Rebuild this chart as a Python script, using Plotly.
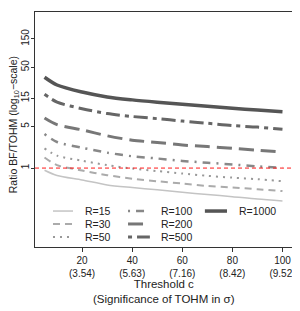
import plotly.graph_objects as go

# ---------------- data ----------------
threshold = [5, 10, 20, 30, 40, 50, 60, 70, 80, 90, 100]
x_tick_vals = [20, 40, 60, 80, 100]
x_tick_sigma = ["3.54", "5.63", "7.16", "8.42", "9.52"]
y_tick_vals = [1, 5, 15, 50, 150]

series_names = ["R=15", "R=30", "R=50", "R=100", "R=200", "R=500", "R=1000"]
ratio_R15 = [0.92, 0.75, 0.63, 0.52, 0.47, 0.43, 0.39, 0.36, 0.33, 0.30, 0.28]
ratio_R30 = [1.51, 1.12, 0.91, 0.76, 0.66, 0.60, 0.55, 0.50, 0.47, 0.44, 0.41]
ratio_R50 = [2.15, 1.62, 1.33, 1.12, 0.98, 0.89, 0.81, 0.74, 0.69, 0.65, 0.60]
ratio_R100 = [3.74, 2.75, 2.20, 1.82, 1.58, 1.45, 1.32, 1.23, 1.15, 1.07, 1.01]
ratio_R200 = [7.0, 5.4, 4.4, 3.5, 2.95, 2.7, 2.45, 2.3, 2.15, 2.0, 1.86]
ratio_R500 = [17.5, 12.9, 10.0, 8.3, 7.4, 6.8, 6.2, 5.7, 5.2, 4.9, 4.5]
ratio_R1000 = [33.9, 25.1, 19.1, 15.8, 14.1, 12.9, 11.9, 11.0, 10.2, 9.5, 8.9]
series_values = [ratio_R15, ratio_R30, ratio_R50, ratio_R100,
                 ratio_R200, ratio_R500, ratio_R1000]

x_title = "Threshold c<br>(Significance of TOHM in σ)"
y_title = "Ratio BF/TOHM (log<sub>10</sub>−scale)"

# ---------------- styles ----------------
styles = [
    dict(color="#c4c4c4", width=1.5, dash="solid"),
    dict(color="#ababab", width=2, dash="7px,5px"),
    dict(color="#999999", width=2, dash="2px,5px"),
    dict(color="#888888", width=2.5, dash="2px,6px,8px,6px"),
    dict(color="#777777", width=3, dash="15px,7px"),
    dict(color="#666666", width=3, dash="4px,5px,14px,5px"),
    dict(color="#555555", width=3.5, dash="solid"),
]
# legend slots (paper coords): (x_line0, x_line1, x_text), rows y
legend_cols = [(0.070, 0.148, 0.187), (0.362, 0.447, 0.482), (0.661, 0.747, 0.786)]
legend_rows = [0.153, 0.098, 0.043]
legend_slots = [(0, 0), (0, 1), (0, 2), (1, 0), (1, 1), (1, 2), (2, 0)]

FONT = "Liberation Sans, Arial, Helvetica, sans-serif"

fig = go.Figure()
for name, vals, st in zip(series_names, series_values, styles):
    fig.add_trace(go.Scatter(
        x=threshold, y=vals, mode="lines", name=name,
        line=dict(color=st["color"], width=st["width"], dash=st["dash"],
                  shape="spline", smoothing=0.8),
        showlegend=False, hoverinfo="skip"))

# reference line at ratio 1
fig.add_hline(y=1, line=dict(color="#ff1a1a", width=1, dash="4px,3px"))

# manual legend in three columns (R style)
for name, st, (ci, ri) in zip(series_names, styles, legend_slots):
    x0, x1, xt = legend_cols[ci]
    y = legend_rows[ri]
    fig.add_shape(type="line", xref="paper", yref="paper",
                  x0=x0, x1=x1, y0=y, y1=y,
                  line=dict(color=st["color"], width=st["width"], dash=st["dash"]))
    fig.add_annotation(xref="paper", yref="paper", x=xt, y=y, text=name,
                       showarrow=False, xanchor="left", yanchor="middle",
                       font=dict(family=FONT, size=10.5, color="#222222"))

# axis titles
fig.add_annotation(xref="paper", yref="paper", x=0.5, y=-0.19, text=x_title,
                   showarrow=False, xanchor="center", yanchor="middle",
                   font=dict(family=FONT, size=11.5, color="#222222"))
fig.add_annotation(xref="paper", yref="paper", x=-0.081, y=0.519, text=y_title,
                   showarrow=False, xanchor="center", yanchor="middle",
                   textangle=-90,
                   font=dict(family=FONT, size=10.5, color="#222222"))

# page body adds an 8px offset; size the figure so the plot lands in place
fig.update_layout(
    width=292, height=303,
    margin=dict(l=27, r=8, t=4, b=64),
    paper_bgcolor="white", plot_bgcolor="white",
    font=dict(family=FONT, size=10, color="#222222"),
    showlegend=False,
)
fig.update_xaxes(
    range=[1.2, 103.8], showgrid=False, zeroline=False,
    tickmode="array", tickvals=x_tick_vals,
    ticktext=[f"{v}<br>({s})" for v, s in zip(x_tick_vals, x_tick_sigma)],
    ticks="outside", ticklen=4, tickcolor="#333333",
    showline=True, linecolor="#333333", linewidth=1, mirror=True,
    tickfont=dict(size=10), automargin=False,
)
fig.update_yaxes(
    type="log", range=[-1.33, 2.63], showgrid=False, zeroline=False,
    tickmode="array", tickvals=y_tick_vals,
    ticktext=[str(v) for v in y_tick_vals],
    ticks="outside", ticklen=3, tickcolor="#333333", tickangle=-90,
    showline=True, linecolor="#333333", linewidth=1, mirror=True,
    tickfont=dict(size=10), automargin=False, ticklabelstandoff=-2,
)

fig.write_html("out.html")
